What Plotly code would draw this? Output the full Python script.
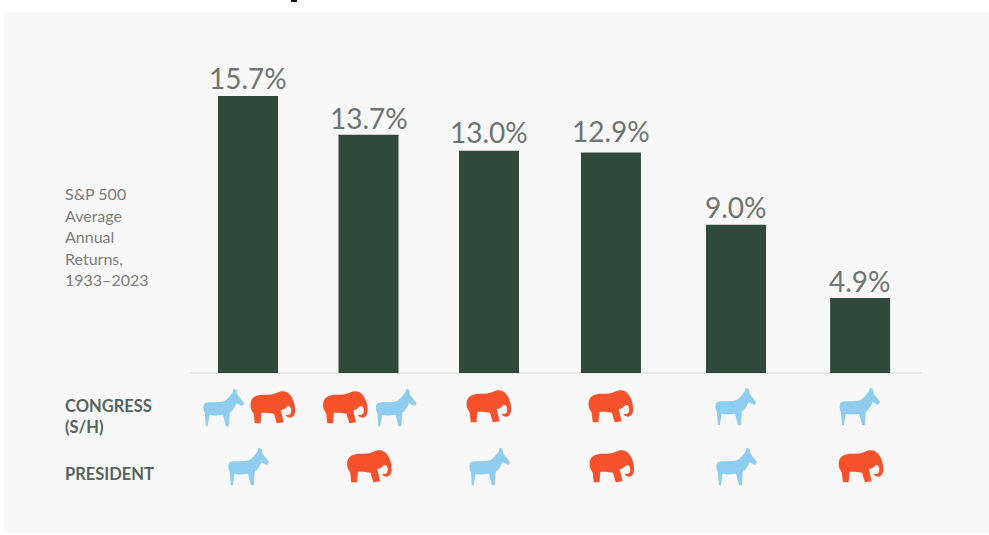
import base64
import plotly.graph_objects as go

# ---- data ----
column_labels = ["15.7%", "13.7%", "13.0%", "12.9%", "9.0%", "4.9%"]
bar_heights = [15.7, 13.5, 12.6, 12.5, 8.4, 4.25]
congress = [["D", "R"], ["R", "D"], ["R"], ["R"], ["D"], ["D"]]
president = ["D", "R", "D", "R", "D", "R"]
side_lines = ["S&P 500", "Average", "Annual", "Returns,", "1933–2023"]

# ---- layout constants ----
W, H = 989, 535
PX_X = 120.5
PX_Y = 277 / 15.7
X0_PX = 248
BASE_PX = 373
col_nudge = [0, 0, 0, 0.012, 0.05, 0.08]
label_gap = [18, 17, 19, 21, 18, 17]
xs = [i + n for i, n in enumerate(col_nudge)]


def dx(px):
    return (px - X0_PX) / PX_X


def dy(px):
    return (BASE_PX - px) / PX_Y


DONKEY = ("M2,15 C6,13 15,15 22,13 C26,11 28,7 31,4 L32,0 L35,1 L36,6 L43,15 L41,18 L35,15 "
          "C33,20 31,23 28,25 L27,39 L24,39 L21,27 C15,28 10,28 7,27 L5,39 L3,39 L2,25 C0,22 0,17 2,15 Z")
ELEPHANT = ("M1,12 C2,6 8,4 14,4 C20,4 25,4 28,2 C33,-1 40,0 43,6 C46,10 47,16 47,21 C47,26 44,29 41,28 "
            "C39,28 37,26 37,25 C40,26 43,25 43,21 C43,17 41,14 38,17 C36,19 35,20 32,20 L35,33 L28,34 "
            "L25,24 C20,23 15,23 12,23 L11,34 L5,34 L4,24 C1,20 0,16 1,12 Z")


def icon_uri(path, color, w, h):
    svg = (f'<svg xmlns="http://www.w3.org/2000/svg" viewBox="-2 -3 {w + 4} {h + 6}">'
           f'<defs><filter id="b"><feGaussianBlur stdDeviation="0.5"/></filter></defs>'
           f'<path d="{path}" fill="{color}" filter="url(#b)"/></svg>')
    return "data:image/svg+xml;base64," + base64.b64encode(svg.encode()).decode()


ICONS = {
    "D": (icon_uri(DONKEY, "#8fcdee", 44, 40), 46, 44),
    "R": (icon_uri(ELEPHANT, "#f5512b", 48, 36), 50, 40),
}


def icon(party, col, px_off, cy_px):
    src, w, h = ICONS[party]
    return dict(source=src, xref="x", yref="y", x=xs[col] + px_off / PX_X, y=dy(cy_px),
                sizex=w / PX_X, sizey=h / PX_Y, xanchor="center", yanchor="middle",
                sizing="stretch", layer="above")


images = []
for c, parties in enumerate(congress):
    if len(parties) == 1:
        images.append(icon(parties[0], c, 0, 407))
    else:
        offs = (-24, 25) if c == 0 else (-23, 28)
        for p, o in zip(parties, offs):
            images.append(icon(p, c, o, 408))
for c, p in enumerate(president):
    images.append(icon(p, c, 1, 467))

fig = go.Figure(go.Bar(
    x=xs, y=bar_heights, width=60 / PX_X,
    marker=dict(color="#2f4a3c", line=dict(width=0)),
    hoverinfo="skip",
))

annotations = []
for x, h, label, gap in zip(xs, bar_heights, column_labels, label_gap):
    annotations.append(dict(xref="x", yref="y", x=x, y=h, text=label, showarrow=False,
                            xanchor="center", yanchor="middle", yshift=gap,
                            font=dict(family="Lato", size=28, color="#6e7471")))
for i, line in enumerate(side_lines):
    annotations.append(dict(xref="x", yref="y", x=dx(63), y=dy(193.5 + i * 21.5), text=line,
                            showarrow=False, xanchor="left", yanchor="middle",
                            font=dict(family="Lato", size=16, color="#7a7e7c")))
for text, cy in [("CONGRESS", 406), ("(S/H)", 427), ("PRESIDENT", 474)]:
    annotations.append(dict(xref="x", yref="y", x=dx(63), y=dy(cy), text=f"<b>{text}</b>",
                            showarrow=False, xanchor="left", yanchor="middle",
                            font=dict(family="Lato", size=16.5, color="#566460")))

shapes = [
    dict(type="rect", xref="x", yref="y", x0=dx(4), x1=dx(989), y0=dy(12), y1=dy(533),
         fillcolor="#f8f8f8", line=dict(width=0), layer="below"),
    dict(type="line", xref="x", yref="y", x0=dx(190), x1=dx(922), y0=0, y1=0,
         line=dict(color="#e2e2e0", width=1.5), layer="below"),
    dict(type="rect", xref="x", yref="y", x0=dx(291), x1=dx(297), y0=dy(0), y1=dy(2),
         fillcolor="#111111", line=dict(width=0)),
]

fig.update_layout(
    width=W, height=H, margin=dict(l=0, r=0, t=0, b=0),
    paper_bgcolor="#ffffff", plot_bgcolor="rgba(0,0,0,0)", showlegend=False,
    xaxis=dict(range=[dx(0), dx(W)], visible=False, fixedrange=True),
    yaxis=dict(range=[dy(H), dy(0)], visible=False, fixedrange=True),
    images=images, annotations=annotations, shapes=shapes,
)

fig.write_html("out.html", config={"displayModeBar": False},
               post_script="document.body.style.margin='0';document.documentElement.style.overflow='hidden';")
